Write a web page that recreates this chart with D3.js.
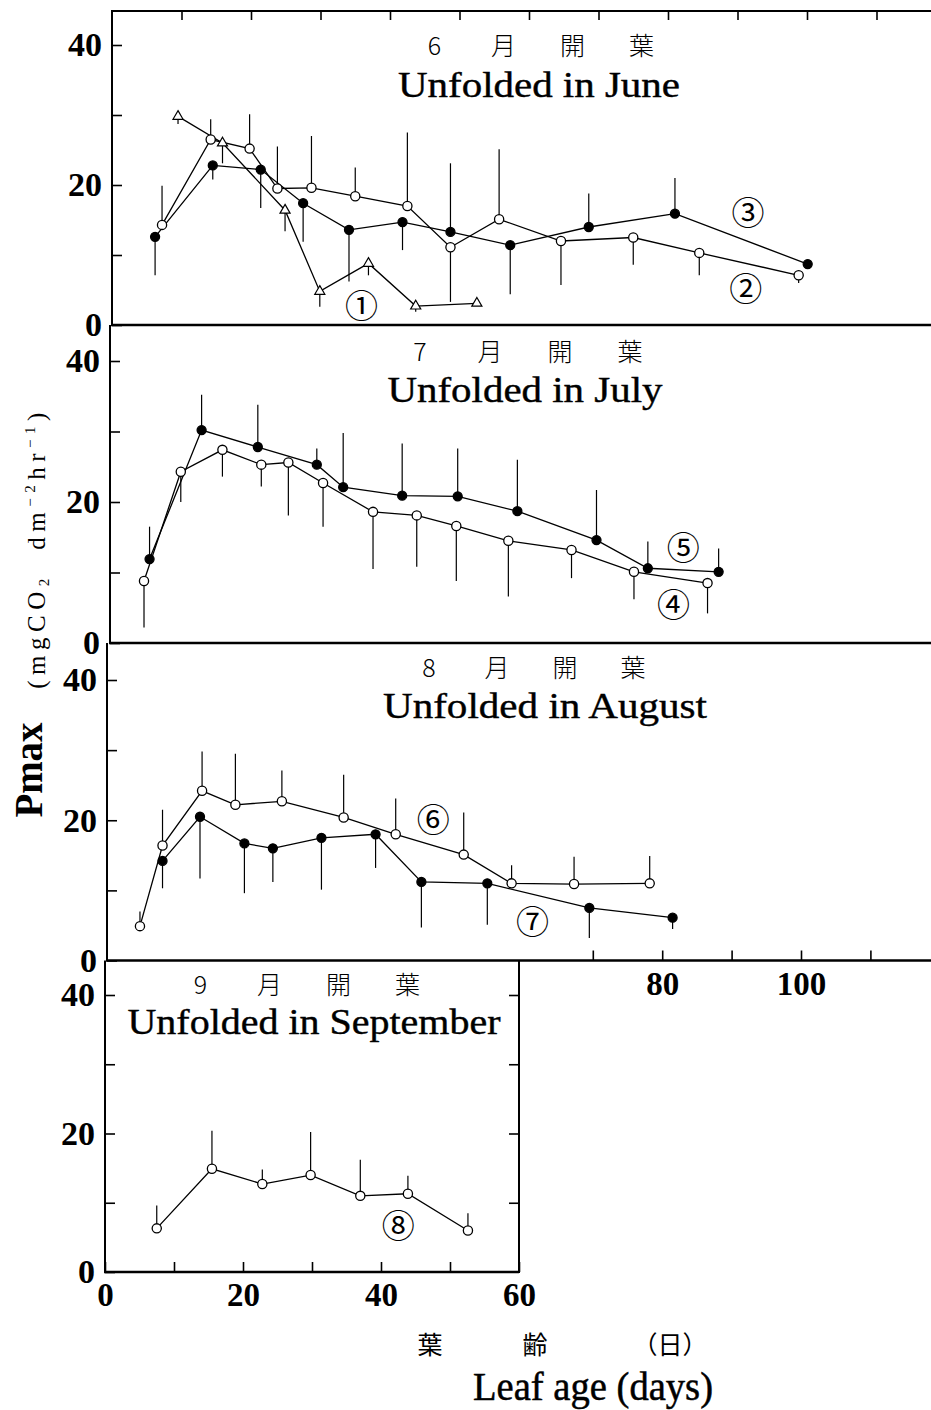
<!DOCTYPE html>
<html>
<head>
<meta charset="utf-8">
<script src="https://cdn.jsdelivr.net/npm/d3@7"></script>
<style>
  html, body { margin: 0; padding: 0; background: #fff; }
  svg { display: block; }
</style>
</head>
<body>
<script>
// ---------------- data ----------------
const panelMonths = ["6", "7", "8", "9"];
const panelTitles = ["Unfolded in June", "Unfolded in July", "Unfolded in August", "Unfolded in September"];
const titleKanji = ["月", "開", "葉"];

const yTicks = [0, 10, 20, 30, 40];
const yTickLabels = [0, 20, 40];
const topTicksJune = [10, 20, 30, 40, 50, 60, 70, 80, 90, 100, 110];
const xTicksSep = [0, 10, 20, 30, 40, 50, 60];
const xTickLabelsSep = [0, 20, 40, 60];
const xTicksAug = [70, 80, 90, 100, 110];
const xTickLabelsAug = [80, 100];

// June: series 1 (triangles), 2 (open circles), 3 (filled circles)
// sd is a one-sided deviation: positive drawn upward, negative downward
const s1Days = [9.5, 15.9, 24.9, 29.9, 36.9, 43.7, 52.5];
const s1Vals = [29.8, 26.0, 16.4, 4.8, 8.8, 2.7, 3.1];
const s1Sd   = [-1.1, -2.9, -3.0, -2.2, -1.7, -0.8, 0];

const s2Days = [7.2, 14.2, 19.8, 23.8, 28.7, 35.0, 42.5, 48.7, 55.7, 64.6, 75.0, 84.5, 98.8];
const s2Vals = [14.3, 26.5, 25.2, 19.5, 19.6, 18.4, 17.0, 11.1, 15.1, 12.0, 12.5, 10.3, 7.1];
const s2Sd   = [5.6, 2.9, 4.9, 6.0, 7.4, 4.1, 10.5, -7.8, 10.0, -6.3, -3.9, -3.2, -1.1];

const s3Days = [6.2, 14.5, 21.4, 27.5, 34.1, 41.8, 48.7, 57.3, 68.6, 81.0, 100.1];
const s3Vals = [12.6, 22.8, 22.2, 17.4, 13.6, 14.7, 13.3, 11.4, 14.0, 15.9, 8.7];
const s3Sd   = [-5.5, -2.0, -5.5, -5.5, -7.4, -4.0, 9.8, -7.0, 4.8, 5.1, 0];

// July: series 4 (open), 5 (filled)
const s4Days = [4.9, 10.2, 16.2, 21.8, 25.7, 30.7, 37.9, 44.2, 49.9, 57.4, 66.5, 75.5, 86.1];
const s4Vals = [8.8, 24.3, 27.4, 25.3, 25.6, 22.7, 18.6, 18.1, 16.6, 14.5, 13.2, 10.1, 8.5];
const s4Sd   = [-6.6, -4.3, -3.8, -3.1, -7.5, -6.2, -8.1, -7.3, -7.8, -7.9, -4.0, -3.9, -4.3];

const s5Days = [5.7, 13.2, 21.3, 29.8, 33.6, 42.1, 50.1, 58.7, 70.1, 77.5, 87.7];
const s5Vals = [11.9, 30.2, 27.8, 25.3, 22.1, 20.9, 20.8, 18.7, 14.6, 10.6, 10.1];
const s5Sd   = [4.6, 5.0, 6.0, 2.3, 7.7, 7.4, 6.8, 7.3, 7.1, 3.8, 3.3];

// August: series 6 (open), 7 (filled)
const s6Days = [4.75, 8.0, 13.7, 18.5, 25.2, 34.1, 41.6, 51.4, 58.3, 67.3, 78.2];
const s6Vals = [4.9, 16.4, 24.2, 22.2, 22.7, 20.4, 18.0, 15.1, 11.0, 10.9, 11.0];
const s6Sd   = [2.1, 5.1, 5.6, 7.3, 4.4, 6.1, 5.1, 6.0, 2.6, 3.9, 3.9];

const s7Days = [8.0, 13.4, 19.8, 23.9, 30.9, 38.7, 45.3, 54.8, 69.5, 81.5];
const s7Vals = [14.2, 20.5, 16.7, 16.0, 17.5, 18.0, 11.2, 11.0, 7.5, 6.1];
const s7Sd   = [-3.9, -8.8, -7.1, -4.8, -7.4, -4.8, -6.5, -5.9, -4.3, -1.6];

// September: series 8 (open)
const s8Days = [7.5, 15.5, 22.8, 29.8, 37.0, 43.9, 52.6];
const s8Vals = [6.3, 14.9, 12.7, 14.0, 11.0, 11.3, 6.0];
const s8Sd   = [3.3, 5.5, 2.1, 6.2, 5.2, 2.6, 2.5];

const seriesLabels = ["①", "②", "③", "④", "⑤", "⑥", "⑦", "⑧"];

// ---------------- layout ----------------
const W = 931, H = 1410;

const frames = [
  { left: 112,   top: 11,    bottom: 325,   y40: 45,  right: W + 4, perDay: 6.95,
    jpX: 538, jpY: 44,   jpGap: 69, enX: 539, enY: 97,   enW: 282 },
  { left: 110,   top: 325,   bottom: 643,   y40: 361, right: W + 4, perDay: 6.94,
    jpX: 525, jpY: 350,  jpGap: 70, enX: 525, enY: 402,  enW: 275 },
  { left: 107,   top: 643,   bottom: 960.5, y40: 680, right: W + 4, perDay: 6.94,
    jpX: 531, jpY: 666,  jpGap: 68, enX: 545, enY: 718,  enW: 324 },
  { left: 105,   top: 960.5, bottom: 1272,  y40: 995, right: 519,   perDay: 6.9,
    jpX: 304, jpY: 983,  jpGap: 69, enX: 314, enY: 1034, enW: 373 }
];

const series = [
  { panel: 0, mark: "tri",    days: s1Days, vals: s1Vals, sd: s1Sd },
  { panel: 0, mark: "open",   days: s2Days, vals: s2Vals, sd: s2Sd },
  { panel: 0, mark: "filled", days: s3Days, vals: s3Vals, sd: s3Sd },
  { panel: 1, mark: "open",   days: s4Days, vals: s4Vals, sd: s4Sd },
  { panel: 1, mark: "filled", days: s5Days, vals: s5Vals, sd: s5Sd },
  { panel: 2, mark: "open",   days: s6Days, vals: s6Vals, sd: s6Sd },
  { panel: 2, mark: "filled", days: s7Days, vals: s7Vals, sd: s7Sd },
  { panel: 3, mark: "open",   days: s8Days, vals: s8Vals, sd: s8Sd }
];

// circled-number tags, in (day, value) units of their panel
const tagPos = [[35.9, 3.0], [91.2, 5.5], [91.5, 16.3], [81.2, 5.7], [82.6, 13.8], [47.0, 20.3], [61.3, 5.8], [42.5, 6.9]];

const SERIF = "'Liberation Serif', 'Times New Roman', serif";
const CJK = "'Noto Sans CJK JP', 'Noto Sans CJK SC', sans-serif";

const svg = d3.select("body").append("svg")
  .attr("width", W).attr("height", H)
  .attr("viewBox", `0 0 ${W} ${H}`);
svg.append("rect").attr("width", W).attr("height", H).attr("fill", "#fff");

const scales = frames.map(f => ({
  x: d3.scaleLinear().domain([0, 100]).range([f.left, f.left + 100 * f.perDay]),
  y: d3.scaleLinear().domain([0, 40]).range([f.bottom, f.y40])
}));

function styleAxis(g, size, bold) {
  g.select(".domain").remove();
  g.selectAll(".tick line").attr("stroke", "#000").attr("stroke-width", 1.6);
  g.selectAll(".tick text")
    .attr("font-family", SERIF)
    .attr("font-size", size)
    .attr("font-weight", bold ? "bold" : "normal")
    .attr("fill", "#000");
}

frames.forEach((f, i) => {
  const { x, y } = scales[i];
  const g = svg.append("g");

  // frame lines
  g.append("line").attr("x1", f.left).attr("x2", f.left).attr("y1", f.top).attr("y2", f.bottom)
    .attr("stroke", "#000").attr("stroke-width", 2);
  g.append("line").attr("x1", f.left - 1).attr("x2", f.right).attr("y1", f.bottom).attr("y2", f.bottom)
    .attr("stroke", "#000").attr("stroke-width", 2.6);
  if (i === 0) {
    g.append("line").attr("x1", f.left - 1).attr("x2", f.right).attr("y1", f.top).attr("y2", f.top)
      .attr("stroke", "#000").attr("stroke-width", 2);
    g.append("g").attr("transform", `translate(0,${f.top})`)
      .call(d3.axisTop(x).tickValues(topTicksJune).tickSize(-9).tickFormat(""))
      .call(a => styleAxis(a, 30, true));
  }
  if (i === 3) {
    g.append("line").attr("x1", f.right).attr("x2", f.right).attr("y1", f.top).attr("y2", f.bottom + 1)
      .attr("stroke", "#000").attr("stroke-width", 2);
    g.append("g").attr("transform", `translate(${f.right},0)`)
      .call(d3.axisRight(y).tickValues(yTicks.slice(1)).tickSize(-10).tickFormat(""))
      .call(a => styleAxis(a, 30, true));
    g.append("g").attr("transform", `translate(0,${f.bottom})`)
      .call(d3.axisBottom(x).tickValues(xTicksSep).tickSize(-10).tickPadding(11)
        .tickFormat(d => xTickLabelsSep.includes(d) ? d : ""))
      .call(a => styleAxis(a, 33, true));
  }
  if (i === 2) {
    g.append("g").attr("transform", `translate(0,${f.bottom})`)
      .call(d3.axisBottom(x).tickValues(xTicksAug).tickSize(-10).tickPadding(11)
        .tickFormat(d => xTickLabelsAug.includes(d) ? d : ""))
      .call(a => styleAxis(a, 33, true));
  }

  // left value axis, ticks pointing inward
  g.append("g").attr("transform", `translate(${f.left},0)`)
    .call(d3.axisLeft(y).tickValues(yTicks).tickSize(-10).tickPadding(10)
      .tickFormat(d => yTickLabels.includes(d) ? d : ""))
    .call(a => styleAxis(a, 34, true));

  // panel headings
  const jp = [panelMonths[i], ...titleKanji];
  g.selectAll("text.jp").data(jp).join("text").attr("class", "jp")
    .attr("x", (d, k) => f.jpX + (k - 1.5) * f.jpGap)
    .attr("y", f.jpY)
    .attr("text-anchor", "middle")
    .attr("dominant-baseline", "central")
    .attr("font-family", CJK)
    .attr("font-size", 25)
    .attr("font-weight", 300)
    .attr("fill", "#000")
    .text(d => d);
  g.append("text")
    .attr("x", f.enX).attr("y", f.enY)
    .attr("text-anchor", "middle")
    .attr("font-family", SERIF)
    .attr("font-size", 36)
    .attr("textLength", f.enW)
    .attr("lengthAdjust", "spacingAndGlyphs")
    .attr("fill", "#000")
    .attr("stroke", "#000")
    .attr("stroke-width", 0.4)
    .text(panelTitles[i]);
});

// series: connecting lines, one-sided error bars, markers
const lineLayer = svg.append("g");
const errLayer = svg.append("g");
const markLayer = svg.append("g");

series.forEach((s, si) => {
  const { x, y } = scales[s.panel];
  const pts = s.days.map((d, k) => ({ day: d, val: s.vals[k], sd: s.sd[k] }));
  lineLayer.append("path")
    .datum(pts)
    .attr("fill", "none")
    .attr("stroke", "#000")
    .attr("stroke-width", 1.3)
    .attr("d", d3.line().x(d => x(d.day)).y(d => y(d.val)));

  errLayer.selectAll(null).data(pts.filter(d => d.sd !== 0)).join("line")
    .attr("x1", d => x(d.day)).attr("x2", d => x(d.day))
    .attr("y1", d => y(d.val)).attr("y2", d => y(d.val + d.sd))
    .attr("stroke", "#000").attr("stroke-width", 1.2);

  const mg = markLayer.append("g");
  if (s.mark === "tri") {
    mg.selectAll("path").data(pts).join("path")
      .attr("transform", d => `translate(${x(d.day)},${y(d.val)})`)
      .attr("d", d3.symbol().type(d3.symbolTriangle).size(44)())
      .attr("fill", "#fff").attr("stroke", "#000").attr("stroke-width", 1.2);
  } else {
    mg.selectAll("circle").data(pts).join("circle")
      .attr("cx", d => x(d.day)).attr("cy", d => y(d.val))
      .attr("r", s.mark === "open" ? 4.6 : 4.5)
      .attr("fill", s.mark === "open" ? "#fff" : "#000")
      .attr("stroke", "#000").attr("stroke-width", 1.3);
  }

  const [td, tv] = tagPos[si];
  markLayer.append("text")
    .attr("x", x(td)).attr("y", y(tv))
    .attr("text-anchor", "middle")
    .attr("dominant-baseline", "central")
    .attr("font-family", CJK)
    .attr("font-size", 33)
    .attr("fill", "#000")
    .text(seriesLabels[si]);
});

// value axis title
svg.append("text")
  .attr("transform", "translate(42,770) rotate(-90)")
  .attr("text-anchor", "middle")
  .attr("font-family", SERIF)
  .attr("font-weight", "bold")
  .attr("font-size", 40)
  .attr("textLength", 95)
  .attr("lengthAdjust", "spacingAndGlyphs")
  .attr("fill", "#000")
  .text("Pmax");

const unit = svg.append("text")
  .attr("transform", "translate(45,548) rotate(-90)")
  .attr("text-anchor", "middle")
  .attr("font-family", SERIF)
  .attr("font-size", 25)
  .attr("letter-spacing", 5.5)
  .attr("fill", "#000");
unit.append("tspan").text("(mgCO");
unit.append("tspan").attr("dy", 4).attr("font-size", 15).text("2");
unit.append("tspan").attr("dy", -4).text("\u00a0\u00a0dm");
unit.append("tspan").attr("dy", -10).attr("font-size", 15).text("−2");
unit.append("tspan").attr("dy", 10).text("hr");
unit.append("tspan").attr("dy", -10).attr("font-size", 15).text("−1");
unit.append("tspan").attr("dy", 10).text(")");

// day axis title
const jpAxis = [["葉", 430], ["齢", 535], ["（日）", 670]];
svg.selectAll("text.jpx").data(jpAxis).join("text").attr("class", "jpx")
  .attr("x", d => d[1]).attr("y", 1343)
  .attr("text-anchor", "middle")
  .attr("dominant-baseline", "central")
  .attr("font-family", CJK)
  .attr("font-size", 25)
  .attr("fill", "#000")
  .text(d => d[0]);

svg.append("text")
  .attr("x", 593).attr("y", 1400)
  .attr("text-anchor", "middle")
  .attr("font-family", SERIF)
  .attr("font-size", 39)
  .attr("textLength", 240)
  .attr("lengthAdjust", "spacingAndGlyphs")
  .attr("fill", "#000")
  .attr("stroke", "#000")
  .attr("stroke-width", 0.5)
  .text("Leaf age (days)");
</script>
</body>
</html>
